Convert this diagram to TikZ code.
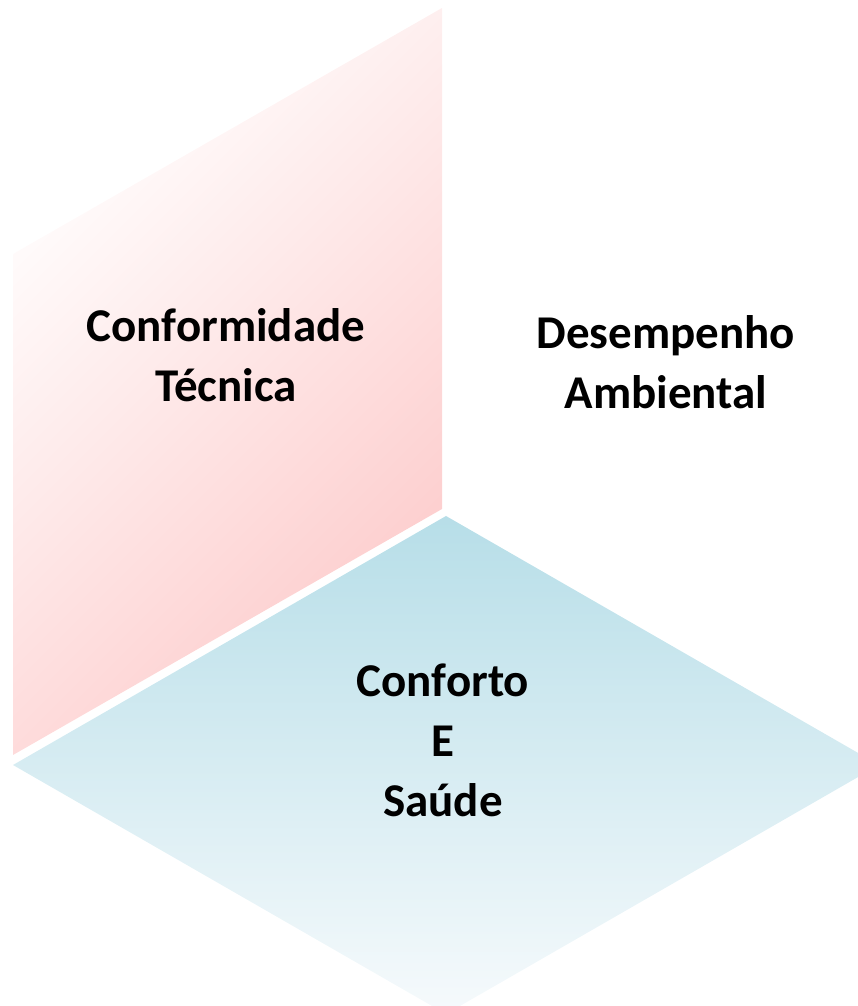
\documentclass[tikz,border=0pt]{standalone}
\usepackage{fontspec}
\setmainfont{Carlito}
\usetikzlibrary{positioning}
\definecolor{facepink}{RGB}{253,203,203}
\definecolor{faceblue}{RGB}{183,222,232}
\definecolor{paleblue}{RGB}{246,250,252}

\begin{document}
\begin{tikzpicture}[x=1pt, y=1pt]

	\tikzset{
	facelabel/.style={align=center, font=\fontsize{47}{60}\selectfont\bfseries, text=black}
	}

	\useasboundingbox (0,0) rectangle (858,1006);

	% Corners
	\coordinate (top) at (442,998);
	\coordinate (mid) at (442,497);
	\coordinate (left_low) at (13,251);
	\coordinate (left_high) at (13,752);
	\coordinate (d_top) at (446,490);
	\coordinate (d_left) at (13,241);
	\coordinate (d_right) at (879,241);
	\coordinate (d_bottom) at (446,-8);

	% Faces
	\shade[top color=white, bottom color=facepink, shading angle=45]
		(top) -- (mid) -- (left_low) -- (left_high) -- cycle;
	\begin{scope}
	\clip (0,0) rectangle (858,1006);
	\shade[top color=faceblue, bottom color=paleblue]
		(d_top) -- (d_right) -- (d_bottom) -- (d_left) -- cycle;
	\end{scope}

	% Labels
	\node[facelabel] (conformidade) at (226,651) {Conformidade\\Técnica};
	\node[facelabel] (desempenho) at (666,644) {Desempenho\\Ambiental};
	\node[facelabel] (conforto) at (443,266) {Conforto\\E\\Saúde};

\end{tikzpicture}
\end{document}
